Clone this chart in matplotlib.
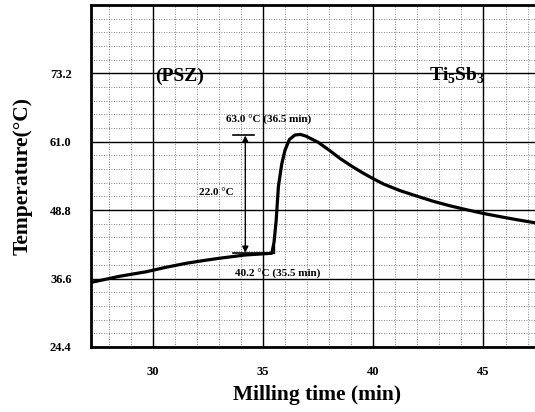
import matplotlib
matplotlib.use("Agg")
import matplotlib.pyplot as plt
from matplotlib.ticker import MultipleLocator

plt.rcParams['font.family'] = ['Liberation Serif', 'DejaVu Serif']
plt.rcParams['font.weight'] = 'bold'
plt.rcParams['mathtext.fontset'] = 'custom'
plt.rcParams['mathtext.rm'] = 'Liberation Serif:bold'
plt.rcParams['mathtext.bf'] = 'Liberation Serif:bold'

# temperature trace
time = [27.2, 28.5, 29.7, 30.6, 31.5, 32.3, 33.0, 34.2, 35.0, 35.4,
        35.5, 35.6, 35.7, 35.85, 36.0, 36.2, 36.45, 36.7, 36.95, 37.5,
        38.0, 38.5, 39.0, 39.5, 40.0, 40.5, 41.2, 41.9, 42.7, 43.45,
        44.2, 45.0, 45.8, 46.5, 47.7]
temp = [35.9, 37.0, 37.8, 38.6, 39.3, 39.8, 40.2, 40.8, 41.0, 41.1,
        43.0, 47.0, 53.0, 57.0, 59.5, 61.4, 62.2, 62.3, 62.0, 60.9,
        59.5, 58.0, 56.7, 55.5, 54.4, 53.4, 52.3, 51.4, 50.4, 49.6,
        48.9, 48.2, 47.6, 47.1, 46.3]

xticks = [30, 35, 40, 45]
yticks = [24.4, 36.6, 48.8, 61.0, 73.2]
ytick_labels = ["24.4", "36.6", "48.8", "61.0", "73.2"]

fig = plt.figure(figsize=(5.35, 4.12), dpi=100)
ax = fig.add_axes([0.170, 0.158, 0.845, 0.830])

# chart paper grid
ax.xaxis.set_minor_locator(MultipleLocator(1))
ax.yaxis.set_minor_locator(MultipleLocator(2.44))
ax.grid(which='minor', color='0.35', linestyle=(0, (1, 2)), linewidth=0.6)
ax.grid(which='major', color='black', linewidth=1.0)

ax.plot(time, temp, color='black', linewidth=2.3, solid_capstyle='round', zorder=5)

ax.set_xlim(27.2, 47.7)
ax.set_ylim(24.4, 85.4)
ax.set_xticks(xticks)
ax.set_yticks(yticks)
ax.set_yticklabels(ytick_labels)
ax.tick_params(which='both', length=0)
ax.tick_params(axis='y', pad=14, labelsize=9)
ax.tick_params(axis='x', pad=14, labelsize=9)
for lab in ax.get_xticklabels() + ax.get_yticklabels():
    lab.set_fontweight('bold')

for s in ['left', 'top', 'bottom']:
    ax.spines[s].set_linewidth(2.0)
ax.spines['right'].set_visible(False)

ax.set_xlabel("Milling time (min)", fontsize=15.5, fontweight='bold', labelpad=5)
ax.set_ylabel("Temperature(°C)", fontsize=15.5, fontweight='bold', labelpad=12)

# annotation bars and double arrow
ax.plot([33.65, 34.6], [62.2, 62.2], color='black', linewidth=1.2, zorder=6)
ax.plot([33.65, 35.5], [41.1, 41.1], color='black', linewidth=1.2, zorder=6)
ax.plot([35.5, 35.5], [41.1, 42.4], color='black', linewidth=1.0, zorder=6)
ax.annotate("", xy=(34.2, 41.2), xytext=(34.2, 62.1),
            arrowprops=dict(arrowstyle='<|-|>', color='black', lw=1.0,
                            mutation_scale=9, shrinkA=0, shrinkB=0), zorder=6)

ax.text(35.25, 64.8, "63.0 °C (36.5 min)", fontsize=8, fontweight='bold',
        ha='center', va='center')
ax.text(32.9, 51.9, "22.0 °C", fontsize=8, fontweight='bold',
        ha='center', va='center')
ax.text(35.65, 37.4, "40.2 °C (35.5 min)", fontsize=8, fontweight='bold',
        ha='center', va='center')
ax.text(31.2, 72.6, "(PSZ)", fontsize=14, fontweight='bold',
        ha='center', va='center')
ax.text(43.8, 72.8, "Ti$_\\mathbf{5}$Sb$_\\mathbf{3}$", fontsize=14, fontweight='bold',
        ha='center', va='center')

fig.savefig("out.png", dpi=100)
